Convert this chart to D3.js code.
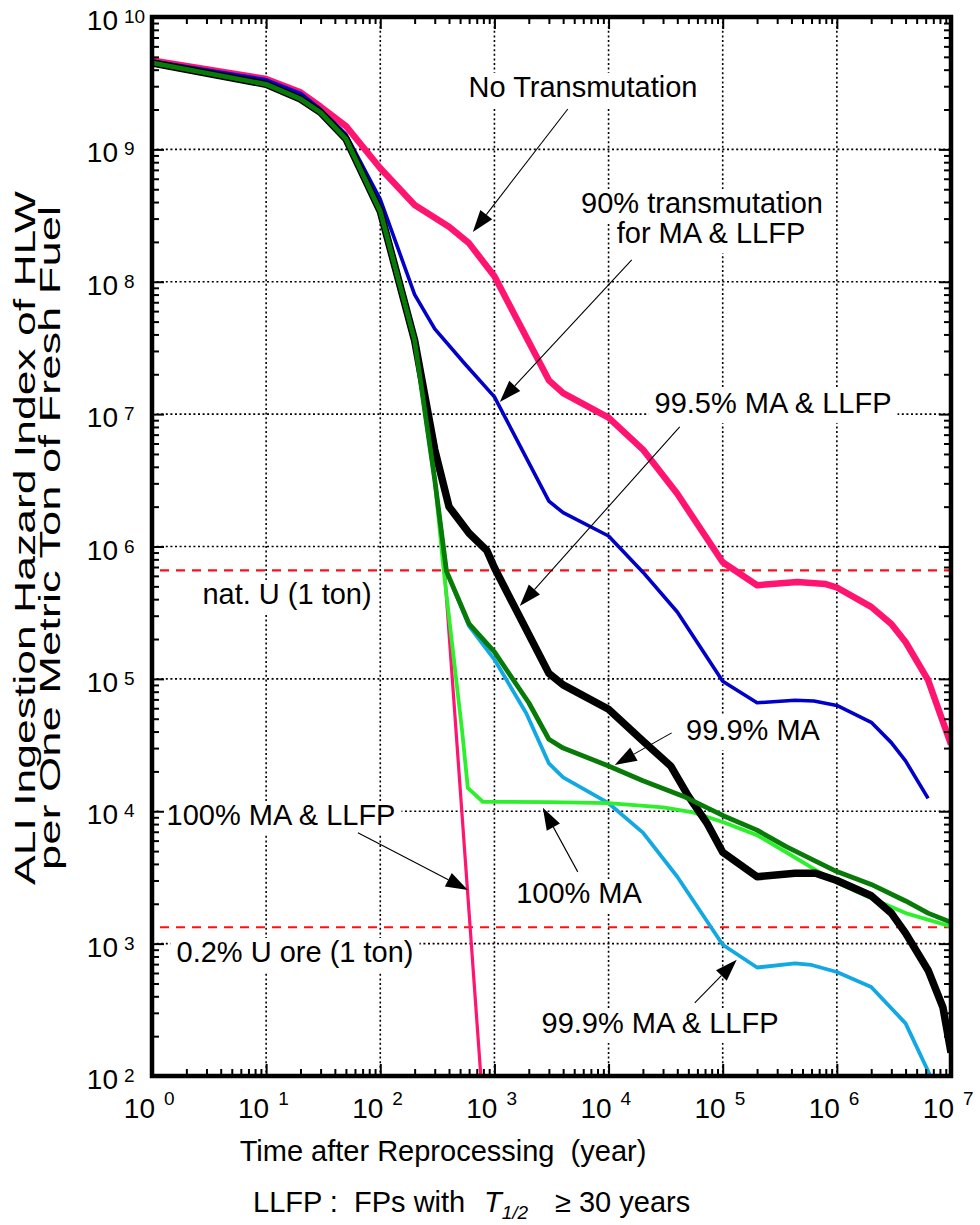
<!DOCTYPE html>
<html>
<head>
<meta charset="utf-8">
<script src="https://cdn.jsdelivr.net/npm/d3@7"></script>
<style>
  body { margin: 0; background: #fff; }
  svg text { font-family: "Liberation Sans", Arial, Helvetica, sans-serif; fill: #000; }
</style>
</head>
<body>
<svg id="chart" width="980" height="1225"></svg>
<script>
// ---- Hazard index (ALI ingestion) per metric ton of fresh fuel vs. time after reprocessing ----

// No transmutation
const noTransT = [1, 10, 20, 30, 50, 100, 200, 400, 600, 1000, 3000, 4000, 1e4, 2e4, 4e4, 1e5, 2e5, 4.5e5, 8e5, 1e6, 2e6, 3e6, 4e6, 6.3e6, 1e7];
const noTransV = [4.7e9, 3.4e9, 2.7e9, 2.1e9, 1.5e9, 7.2e8, 3.8e8, 2.6e8, 1.95e8, 1.1e8, 1.8e7, 1.44e7, 9.4e6, 5.4e6, 2.5e6, 7.6e5, 5.1e5, 5.4e5, 5.2e5, 4.9e5, 3.5e5, 2.6e5, 1.9e5, 9.8e4, 3.2e4];

// 90% transmutation for MA & LLFP
const tr90T = [1, 10, 20, 30, 50, 100, 200, 300, 550, 1000, 3000, 4000, 1e4, 2e4, 4e4, 1e5, 2e5, 4.3e5, 6.3e5, 1e6, 2e6, 3e6, 4e6, 6.3e6];
const tr90V = [4.65e9, 3.35e9, 2.65e9, 2.0e9, 1.3e9, 4.2e8, 8e7, 4.4e7, 2.4e7, 1.35e7, 2.2e6, 1.8e6, 1.2e6, 6.4e5, 3.2e5, 9.6e4, 6.6e4, 6.9e4, 6.8e4, 6.3e4, 4.7e4, 3.3e4, 2.4e4, 1.25e4];

// 99.5% MA & LLFP
const tr995T = [1, 10, 20, 30, 50, 100, 200, 300, 400, 600, 860, 1000, 3000, 4000, 1e4, 2e4, 3.5e4, 5e4, 7.3e4, 1e5, 2e5, 4.3e5, 6.5e5, 1e6, 2e6, 3e6, 4e6, 6.3e6, 8.5e6, 1e7];
const tr995V = [4.5e9, 3.1e9, 2.4e9, 1.9e9, 1.2e9, 3.4e8, 3.6e7, 5.4e6, 2.0e6, 1.26e6, 9.3e5, 6.9e5, 1.1e5, 9e4, 5.9e4, 3.4e4, 2.2e4, 1.3e4, 8.1e3, 4.9e3, 3.2e3, 3.4e3, 3.4e3, 3.0e3, 2.3e3, 1.7e3, 1.2e3, 630, 330, 150];

// 99.9% MA
const ma999T = [1, 10, 20, 30, 50, 100, 200, 300, 380, 600, 1000, 2000, 3000, 4000, 1e4, 2e4, 4.5e4, 1e5, 2e5, 3.6e5, 6.5e5, 1e6, 2e6, 4e6, 6.3e6, 1e7];
const ma999V = [4.5e9, 3.1e9, 2.4e9, 1.9e9, 1.2e9, 3.4e8, 3.6e7, 3.2e6, 6.5e5, 2.6e5, 1.6e5, 6.6e4, 3.5e4, 3.0e4, 2.2e4, 1.7e4, 1.3e4, 9.3e3, 7.2e3, 5.4e3, 4.2e3, 3.5e3, 2.8e3, 2.1e3, 1.7e3, 1.45e3];

// 100% MA
const ma100T = [1, 10, 20, 30, 50, 100, 200, 300, 360, 520, 585, 790, 3000, 1e4, 3e4, 5.5e4, 1e5, 2e5, 3.6e5, 6.5e5, 1e6, 2e6, 4e6, 1e7];
const ma100V = [4.5e9, 3.1e9, 2.4e9, 1.9e9, 1.2e9, 3.4e8, 3.6e7, 3.2e6, 6.5e5, 4.1e4, 1.5e4, 1.18e4, 1.17e4, 1.15e4, 1.07e4, 9.8e3, 8.3e3, 6.6e3, 4.9e3, 3.6e3, 2.9e3, 2.2e3, 1.7e3, 1.35e3];

// 99.9% MA & LLFP
const all999T = [1, 10, 20, 30, 50, 100, 200, 300, 380, 600, 1000, 1900, 3000, 4000, 1e4, 2e4, 4e4, 1e5, 2e5, 4.3e5, 6e5, 1e6, 2e6, 4e6, 6.6e6];
const all999V = [4.5e9, 3.1e9, 2.4e9, 1.9e9, 1.2e9, 3.4e8, 3.6e7, 3.2e6, 6.5e5, 2.5e5, 1.4e5, 5.5e4, 2.3e4, 1.8e4, 1.15e4, 6.9e3, 3.2e3, 980, 660, 710, 690, 610, 470, 250, 100];

// 100% MA & LLFP
const all100T = [1, 10, 20, 30, 50, 100, 200, 300, 355, 760];
const all100V = [4.5e9, 3.1e9, 2.4e9, 1.9e9, 1.2e9, 3.4e8, 3.6e7, 3.2e6, 9.3e5, 100];

// Reference levels
const natU = 6.6e5;        // natural uranium, 1 ton
const uOre = 1.33e3;       // 0.2% uranium ore, 1 ton

// Axis decades
const xExponents = [0, 1, 2, 3, 4, 5, 6, 7];
const yExponents = [2, 3, 4, 5, 6, 7, 8, 9, 10];

// ---------------------------------------------------------------------------
const svg = d3.select("#chart");
const pLeft = 152, pRight = 951, pTop = 17, pBottom = 1076;

const x = d3.scaleLog().domain([1, 1e7]).range([pLeft, pRight]);
const y = d3.scaleLog().domain([1e2, 1e10]).range([pBottom, pTop]);
const at = (lt, lv) => [x(Math.pow(10, lt)), y(Math.pow(10, lv))];

const gridLayer = svg.append("g");
const bgLayer = svg.append("g");
const refLayer = svg.append("g");
const curveLayer = svg.append("g");
const textLayer = svg.append("g");
const arrowLayer = svg.append("g");
const axisLayer = svg.append("g");

// clip
svg.append("defs").append("clipPath").attr("id", "plot")
  .append("rect").attr("x", pLeft).attr("y", pTop)
  .attr("width", pRight - pLeft).attr("height", pBottom - pTop);

// grid
const gridStyle = g => g.attr("stroke", "#000").attr("stroke-width", 1.6)
  .attr("stroke-dasharray", "2,2.6").attr("fill", "none");
gridLayer.selectAll("line.vx").data(xExponents.slice(1, -1)).join("line")
  .attr("x1", d => x(Math.pow(10, d))).attr("x2", d => x(Math.pow(10, d)))
  .attr("y1", pTop).attr("y2", pBottom).call(gridStyle);
gridLayer.selectAll("line.hy").data(yExponents.slice(1, -1)).join("line")
  .attr("y1", d => y(Math.pow(10, d))).attr("y2", d => y(Math.pow(10, d)))
  .attr("x1", pLeft).attr("x2", pRight).call(gridStyle);

// reference dashed levels
refLayer.selectAll("line").data([natU, uOre]).join("line")
  .attr("x1", pLeft + 8).attr("x2", pRight)
  .attr("y1", d => y(d)).attr("y2", d => y(d))
  .attr("stroke", "#ff1010").attr("stroke-width", 2.2)
  .attr("stroke-dasharray", "9,7");

// curves (drawn bottom to top; the 99.9% MA curve sits over the shared early trunk)
const series = [
  { t: noTransT, v: noTransV, color: "#ff1470", width: 6.5 },
  { t: tr90T, v: tr90V, color: "#0000c8", width: 3.6 },
  { t: all100T, v: all100V, color: "#ff1470", width: 3.2 },
  { t: all999T, v: all999V, color: "#12a8e4", width: 3.8 },
  { t: ma100T, v: ma100V, color: "#2cf02c", width: 3.8 },
  { t: tr995T, v: tr995V, color: "#000000", width: 7.5 },
  { t: ma999T, v: ma999V, color: "#087a08", width: 4.8 }
];
const line = d3.line().x(d => x(d[0])).y(d => y(d[1]));
curveLayer.attr("clip-path", "url(#plot)")
  .selectAll("path").data(series).join("path")
  .attr("d", s => line(s.t.map((t, i) => [t, s.v[i]])))
  .attr("fill", "none").attr("stroke", s => s.color)
  .attr("stroke-width", s => s.width)
  .attr("stroke-linejoin", "round").attr("stroke-linecap", "butt");

// annotation labels with white backing
const FS = 29;
function label(txt, cx, base) {
  const t = textLayer.append("text").attr("x", cx).attr("y", base)
    .attr("text-anchor", "middle").attr("font-size", FS).text(txt);
  const b = t.node().getBBox();
  bgLayer.append("rect").attr("x", b.x - 6).attr("y", b.y + 2)
    .attr("width", b.width + 12).attr("height", b.height + 2).attr("fill", "#fff");
}
label("No Transmutation", 583, 97);
label("90% transmutation", 702, 213);
label("for MA & LLFP", 711, 243);
label("99.5% MA & LLFP", 773, 413);
label("nat. U (1 ton)", 287, 604);
label("99.9% MA", 753, 740);
label("100% MA & LLFP", 281, 825);
label("100% MA", 579, 903);
label("0.2% U ore (1 ton)", 295, 962);
label("99.9% MA & LLFP", 660, 1033);

// arrows: [tail, tip] in log10 data coordinates
const arrows = [
  [[3.643, 9.305], [2.811, 8.376]],
  [[4.203, 8.165], [3.047, 7.092]],
  [[4.623, 6.903], [3.222, 5.551]],
  [[4.553, 4.592], [4.054, 4.350]],
  [[3.730, 3.542], [3.424, 4.026]],
  [[1.804, 3.837], [2.767, 3.406]],
  [[4.755, 2.553], [5.123, 2.878]]
];
arrows.forEach(([a, b]) => {
  const [x1, y1] = at(a[0], a[1]);
  const [x2, y2] = at(b[0], b[1]);
  const ang = Math.atan2(y2 - y1, x2 - x1);
  const L = 22, Wd = 7.5;
  const bx = x2 - L * Math.cos(ang), by = y2 - L * Math.sin(ang);
  arrowLayer.append("line").attr("x1", x1).attr("y1", y1).attr("x2", bx).attr("y2", by)
    .attr("stroke", "#000").attr("stroke-width", 1.1);
  const px = -Math.sin(ang) * Wd, py = Math.cos(ang) * Wd;
  arrowLayer.append("path")
    .attr("d", `M${x2},${y2}L${bx + px},${by + py}L${bx - px},${by - py}Z`)
    .attr("fill", "#000");
});

// axes: ticks pointing inward
const majX = xExponents.map(e => Math.pow(10, e));
const majY = yExponents.map(e => Math.pow(10, e));
const minX = [], minY = [];
xExponents.slice(0, -1).forEach(e => { for (let m = 2; m <= 9; m++) minX.push(m * Math.pow(10, e)); });
yExponents.slice(0, -1).forEach(e => { for (let m = 2; m <= 9; m++) minY.push(m * Math.pow(10, e)); });

function tickAxis(axisFn, scale, vals, size, tx, ty) {
  const g = axisLayer.append("g").attr("transform", `translate(${tx},${ty})`)
    .call(axisFn(scale).tickValues(vals).tickSize(-size).tickFormat(""));
  g.select(".domain").remove();
  g.selectAll(".tick line").attr("stroke", "#000").attr("stroke-width", 2);
}
tickAxis(d3.axisLeft, y, majY, 12, pLeft, 0);
tickAxis(d3.axisLeft, y, minY, 7, pLeft, 0);
tickAxis(d3.axisRight, y, majY, 12, pRight, 0);
tickAxis(d3.axisRight, y, minY, 7, pRight, 0);
tickAxis(d3.axisBottom, x, majX, 12, 0, pBottom);
tickAxis(d3.axisBottom, x, minX, 7, 0, pBottom);
tickAxis(d3.axisTop, x, majX, 12, 0, pTop);
tickAxis(d3.axisTop, x, minX, 7, 0, pTop);

axisLayer.append("rect").attr("x", pLeft).attr("y", pTop)
  .attr("width", pRight - pLeft).attr("height", pBottom - pTop)
  .attr("fill", "none").attr("stroke", "#000").attr("stroke-width", 4.5);

// tick labels "10 n"
xExponents.forEach(e => {
  const cx = x(Math.pow(10, e));
  axisLayer.append("text").attr("x", cx + 3).attr("y", 1118)
    .attr("text-anchor", "end").attr("font-size", 28).text("10");
  axisLayer.append("text").attr("x", cx + 12).attr("y", 1105)
    .attr("font-size", 19).text(String(e));
});
yExponents.forEach(e => {
  const cy = y(Math.pow(10, e));
  axisLayer.append("text").attr("x", 118).attr("y", cy + 13)
    .attr("text-anchor", "end").attr("font-size", 28).text("10");
  axisLayer.append("text").attr("x", 124).attr("y", cy + 6)
    .attr("font-size", 19).text(String(e));
});

// axis titles
svg.append("text").attr("x", 443).attr("y", 1161).attr("text-anchor", "middle")
  .attr("font-size", 29).attr("xml:space", "preserve")
  .text("Time after Reprocessing  (year)");

const yt = svg.append("g").attr("transform", "translate(0,538) rotate(-90)");
yt.append("text").attr("x", -347).attr("y", 35).attr("font-size", 30)
  .attr("textLength", 694).attr("lengthAdjust", "spacingAndGlyphs")
  .text("ALI Ingestion Hazard Index of HLW");
yt.append("text").attr("x", -332).attr("y", 60).attr("font-size", 30)
  .attr("textLength", 664).attr("lengthAdjust", "spacingAndGlyphs")
  .text("per One Metric Ton of Fresh Fuel");

const foot = svg.append("text").attr("y", 1212).attr("font-size", 29)
  .attr("xml:space", "preserve");
foot.append("tspan").attr("x", 253).text("LLFP :  FPs with");
foot.append("tspan").attr("x", 484).attr("font-style", "italic").text("T");
foot.append("tspan").attr("font-style", "italic").attr("font-size", 19).attr("dy", 7).text("1/2");
foot.append("tspan").attr("x", 555).attr("dy", -7).text("\u2265 30 years");
</script>
</body>
</html>
